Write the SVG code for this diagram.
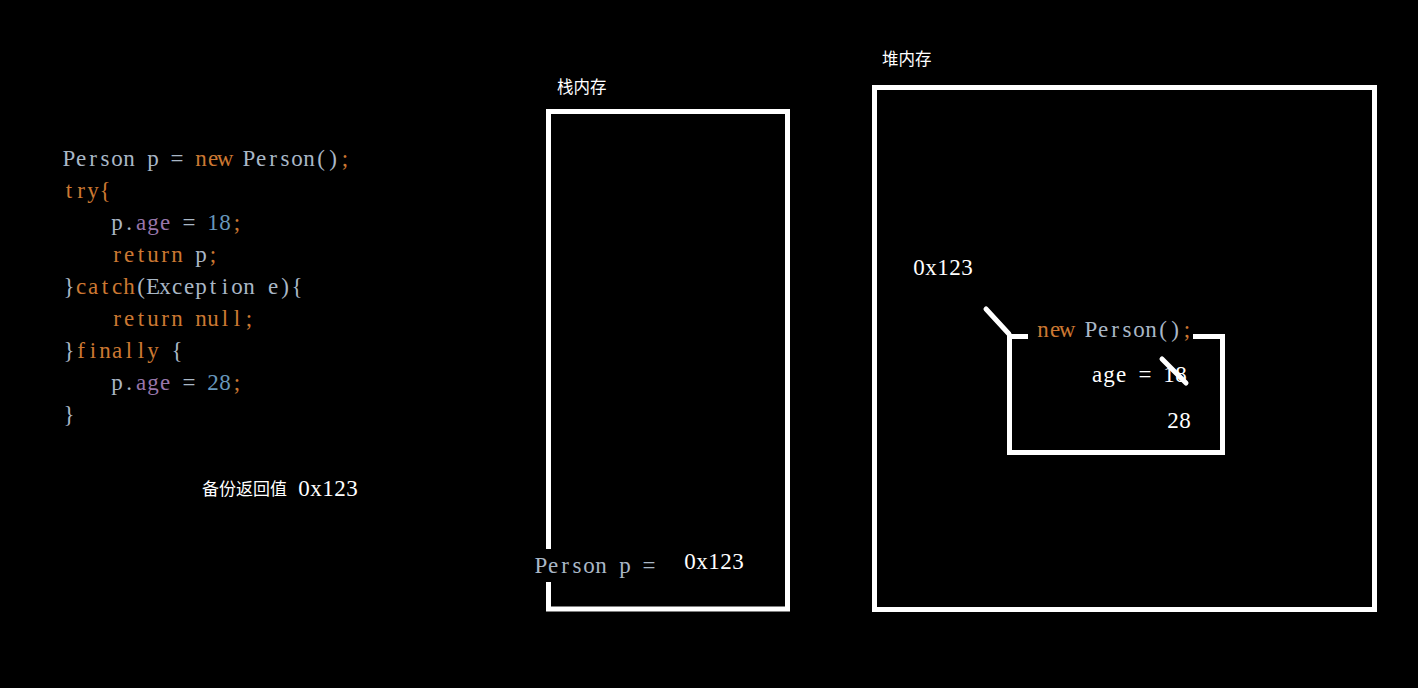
<svg xmlns="http://www.w3.org/2000/svg" width="1418" height="688" viewBox="0 0 1418 688">
<style>
.code{font-family:"Liberation Serif","Times New Roman",serif;font-size:23px;fill:#a9b7c6;text-anchor:middle}
.kw{fill:#cc7832}
.fld{fill:#9876aa}
.num{fill:#6897bb}
.w{fill:#ffffff}
.cn{font-family:"Noto Sans CJK SC",sans-serif;font-size:16.5px;fill:#ffffff}
.box{fill:none;stroke:#ffffff;stroke-width:5;stroke-linecap:butt}
.mark{fill:none;stroke:#ffffff;stroke-width:5;stroke-linecap:round}
</style>
<rect width="1418" height="688" fill="#000000"/>
<g id="code">
<text class="code" x="69 81 93 105 117 129 141 153 165 177 189 201 213 225 237 249 261 273 285 297 309 321 333 345" y="166">Person p = <tspan class="kw">new</tspan> Person()<tspan class="kw">;</tspan></text>
<text class="code kw" x="69 81 93 105" y="198">try{</text>
<text class="code" x="117 129 141 153 165 177 189 201 213 225 237" y="230">p.<tspan class="fld">age</tspan> = <tspan class="num">18</tspan><tspan class="kw">;</tspan></text>
<text class="code" x="117 129 141 153 165 177 189 201 213" y="262"><tspan class="kw">return</tspan> p<tspan class="kw">;</tspan></text>
<text class="code" x="69 81 93 105 117 129 141 153 165 177 189 201 213 225 237 249 261 273 285 297" y="294">}<tspan class="kw">catch</tspan>(Exception e){</text>
<text class="code kw" x="117 129 141 153 165 177 189 201 213 225 237 249" y="326">return null;</text>
<text class="code" x="69 81 93 105 117 129 141 153 165 177" y="358">}<tspan class="kw">finally</tspan> {</text>
<text class="code" x="117 129 141 153 165 177 189 201 213 225 237" y="390">p.<tspan class="fld">age</tspan> = <tspan class="num">28</tspan><tspan class="kw">;</tspan></text>
<text class="code" x="69" y="422">}</text>
</g>
<g id="backup">
<text class="cn" x="202" y="495" style="font-size:17px">备份返回值</text>
<text class="code w" x="304 316 328 340 352" y="496">0x123</text>
</g>
<g id="stack">
<text class="cn" x="557" y="93">栈内存</text>
<path class="box" d="M548.5,549 V111.5 H787.5 V609 H548.5 V582"/>
<text class="code" x="541 553 565 577 589 601 613 625 637 649" y="573">Person p =</text>
<text class="code w" x="690 702 714 726 738" y="569">0x123</text>
</g>
<g id="heap">
<text class="cn" x="882" y="65">堆内存</text>
<rect class="box" x="874.5" y="87.5" width="500" height="522"/>
<text class="code w" x="919 931 943 955 967" y="275">0x123</text>
</g>
<g id="person-object">
<path class="box" d="M1028,336.5 H1009.5 V452.5 H1222.5 V336.5 H1193"/>
<text class="code" x="1043 1055 1067 1079 1091 1103 1115 1127 1139 1151 1163 1175 1187" y="337"><tspan class="kw">new</tspan> Person()<tspan class="kw">;</tspan></text>
<text class="code w" x="1097 1109 1121 1133 1145 1157 1169 1181" y="382">age = 18</text>
<text class="code w" x="1173 1185" y="428">28</text>
</g>
<g id="connectors">
<line class="mark" x1="986" y1="309" x2="1009" y2="334"/>
<line class="mark" x1="1162" y1="359" x2="1186" y2="383"/>
</g>
</svg>
